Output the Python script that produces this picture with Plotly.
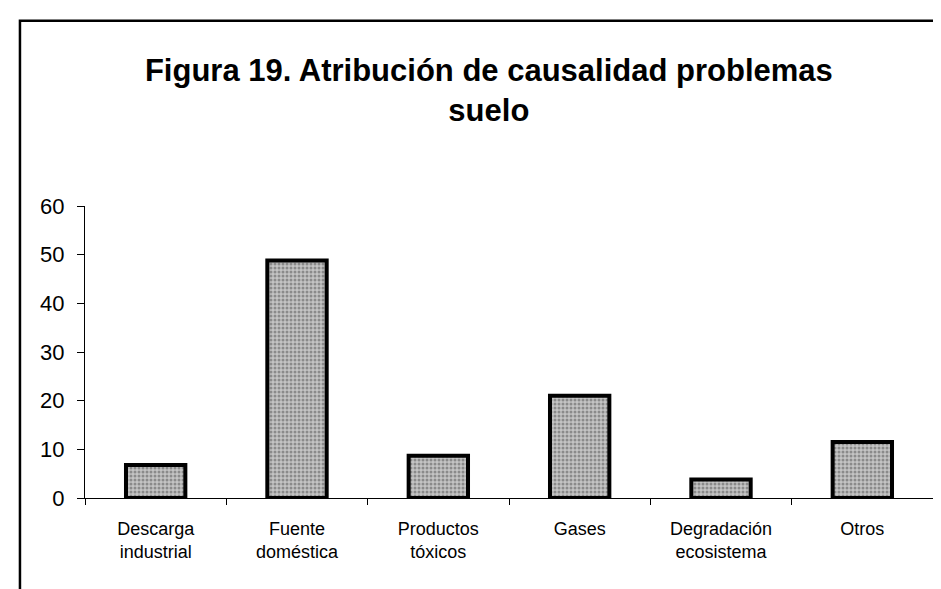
import plotly.graph_objects as go

# categorias y valores (%)
categorias = ["Descarga<br>industrial", "Fuente<br>doméstica", "Productos<br>tóxicos",
              "Gases", "Degradación<br>ecosistema", "Otros"]
valores = [6.8, 48.8, 8.7, 21, 3.8, 11.5]
y_ticks = [0, 10, 20, 30, 40, 50, 60]

fig = go.Figure()

fig.add_trace(go.Bar(
    x=categorias,
    y=valores,
    marker=dict(
        color="#a8a8a8",
        line=dict(color="black", width=4),
        pattern=dict(shape=".", fgcolor="#505050", bgcolor="#c4c4c4", size=4, solidity=0.45),
    ),
    width=0.42,
))

# marco del grafico
fig.add_shape(type="rect", xref="paper", yref="paper",
              x0=-0.0767, x1=1.2, y0=-0.6, y1=1.634,
              line=dict(color="black", width=2.5), fillcolor="rgba(0,0,0,0)", layer="below")

fig.update_layout(
    width=941, height=589,
    paper_bgcolor="white", plot_bgcolor="white",
    margin=dict(l=77, r=16, t=198, b=99),
    showlegend=False,
    font=dict(family="Liberation Sans, Arial, sans-serif", color="black"),
    title=dict(
        text="<b>Figura 19. Atribución de causalidad problemas<br>suelo</b>",
        x=0.511, xref="container", xanchor="center",
        y=0.876, yref="container", yanchor="middle",
        font=dict(size=31, color="black"),
    ),
    xaxis=dict(
        showline=True, linecolor="black", linewidth=1.2,
        ticks="outside", tickson="boundaries", ticklen=6, tickcolor="black",
        tickfont=dict(size=18), ticklabelstandoff=14,
        showgrid=False, zeroline=False,
    ),
    yaxis=dict(
        range=[0, 60], tickvals=y_ticks,
        showline=True, linecolor="black", linewidth=1.2,
        ticks="outside", ticklen=7, tickcolor="black",
        tickfont=dict(size=22), ticklabelstandoff=8,
        showgrid=False, zeroline=False,
    ),
)

fig.write_html("out.html")
